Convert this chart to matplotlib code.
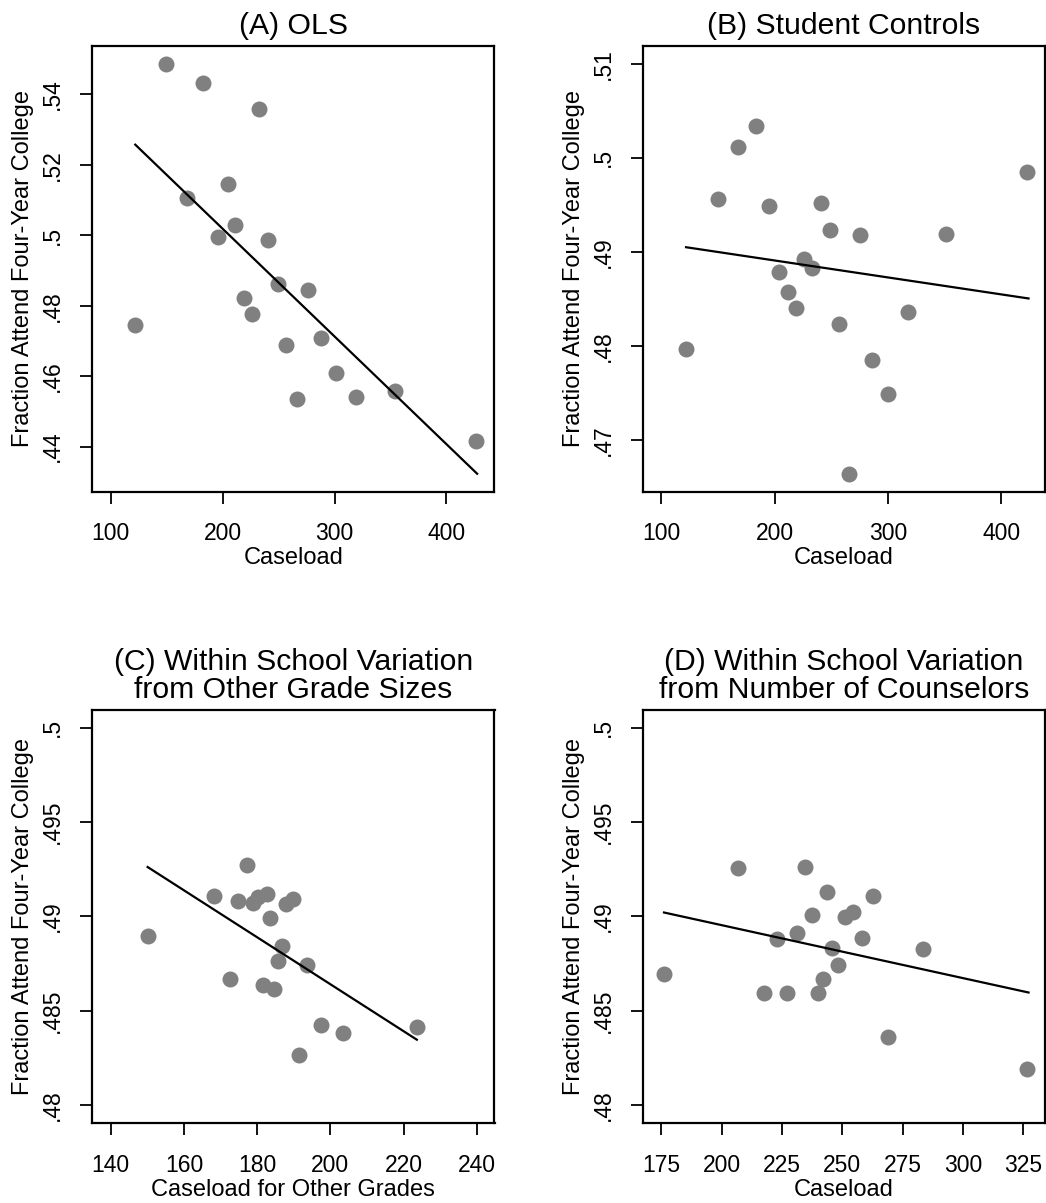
import matplotlib.pyplot as plt

plt.rcParams['font.family'] = ['Liberation Sans', 'DejaVu Sans']

# (A) OLS
a_x = [149.4, 182.7, 232.7, 204.8, 168.2, 211.3, 195.5, 240.8, 249.1, 276.2,
       219.0, 225.9, 122.0, 287.8, 256.8, 300.9, 353.9, 319.6, 266.7, 426.2]
a_y = [.5486, .5432, .5357, .5144, .5106, .5028, .4996, .4986, .4861, .4844,
       .4822, .4776, .4746, .4707, .4687, .4610, .4558, .4541, .4535, .4417]
a_fit_x = [122.0, 427.4]
a_fit_y = [.5257, .4323]

# (B) Student Controls
b_x = [183.2, 167.9, 150.0, 194.7, 241.2, 248.5, 275.6, 351.5, 422.6, 225.9,
       233.2, 203.8, 211.8, 218.8, 256.5, 317.6, 121.8, 286.2, 299.7, 265.9]
b_y = [.50337, .50120, .49568, .49491, .49518, .49236, .49183, .49194, .49850, .48920,
       .48832, .48783, .48570, .48402, .48238, .48364, .47971, .47850, .47488, .46642]
b_fit_x = [121.8, 424.1]
b_fit_y = [.49050, .48505]

# (C) other grade sizes
c_x = [177.1, 168.3, 174.9, 178.8, 180.1, 182.8, 188.0, 189.7, 183.6, 150.1,
       186.9, 185.7, 193.6, 172.5, 181.5, 184.6, 197.3, 203.5, 191.4, 223.6]
c_y = [.49271, .49109, .49083, .49071, .49100, .49119, .49066, .49092, .48991, .48898,
       .48845, .48762, .48743, .48670, .48638, .48612, .48424, .48382, .48266, .48414]
c_fit_x = [150.1, 223.6]
c_fit_y = [.49261, .48346]

# (D) number of counselors
d_x = [206.8, 234.4, 243.8, 262.6, 237.4, 251.1, 254.6, 231.1, 223.1, 258.1,
       245.9, 283.6, 248.3, 176.1, 242.1, 217.5, 227.2, 239.9, 268.8, 326.5]
d_y = [.49257, .49263, .49130, .49109, .49007, .48997, .49025, .48912, .48877, .48883,
       .48834, .48824, .48741, .48695, .48670, .48593, .48593, .48593, .48361, .48190]
d_fit_x = [176.1, 327.2]
d_fit_y = [.49020, .48596]

ylab = 'Fraction Attend Four-Year College'

W, H = 1046, 1203
fig = plt.figure(figsize=(W / 100, H / 100), dpi=100)


def panel(box, x, y, fx, fy, title, xlabel, xticks, yticks, ylabels, xlim, ylim):
    l, t, r, b = box
    ax = fig.add_axes([l / W, 1 - b / H, (r - l) / W, (b - t) / H])
    ax.plot(x, y, 'o', color='#808080', markersize=11.5, markeredgewidth=0, zorder=2)
    ax.plot(fx, fy, color='black', linewidth=1.6, zorder=3)
    ax.set_xlim(xlim)
    ax.set_ylim(ylim)
    ax.set_xticks(xticks, [str(v) for v in xticks])
    ax.set_yticks(yticks, ylabels)
    for s in ax.spines.values():
        s.set_linewidth(1.6)
    ax.tick_params(axis='both', direction='out', length=8.5, width=1.3, labelsize=16.5)
    ax.tick_params(axis='x', pad=13.5)
    ax.tick_params(axis='y', pad=12)
    for lbl in ax.get_yticklabels():
        lbl.set_rotation(90)
        lbl.set_va('center')
    ax.set_xlabel(xlabel, fontsize=17, labelpad=1.5)
    ax.set_ylabel(ylab, fontsize=17, labelpad=5)
    ax.set_title(title, fontsize=21.7, pad=8.5, linespacing=1.02)
    return ax


panel((92.3, 46, 494.5, 491.7), a_x, a_y, a_fit_x, a_fit_y, '(A) OLS', 'Caseload',
      [100, 200, 300, 400], [.44, .46, .48, .50, .52, .54],
      ['.44', '.46', '.48', '.5', '.52', '.54'], (83.6, 442.9), (.4272, .5537))
panel((643, 46, 1044.5, 491.7), b_x, b_y, b_fit_x, b_fit_y, '(B) Student Controls', 'Caseload',
      [100, 200, 300, 400], [.47, .48, .49, .50, .51],
      ['.47', '.48', '.49', '.5', '.51'], (83.8, 438.2), (.4645, .5119))
panel((92.3, 710, 494.5, 1123.3), c_x, c_y, c_fit_x, c_fit_y,
      '(C) Within School Variation\nfrom Other Grade Sizes', 'Caseload for Other Grades',
      [140, 160, 180, 200, 220, 240], [.48, .485, .49, .495, .5],
      ['.48', '.485', '.49', '.495', '.5'], (135.0, 244.8), (.47903, .50093))
panel((643, 710, 1044.5, 1123.3), d_x, d_y, d_fit_x, d_fit_y,
      '(D) Within School Variation\nfrom Number of Counselors', 'Caseload',
      [175, 200, 225, 250, 275, 300, 325], [.48, .485, .49, .495, .5],
      ['.48', '.485', '.49', '.495', '.5'], (167.4, 333.8), (.47903, .50093))

fig.savefig('out.png', dpi=100)
